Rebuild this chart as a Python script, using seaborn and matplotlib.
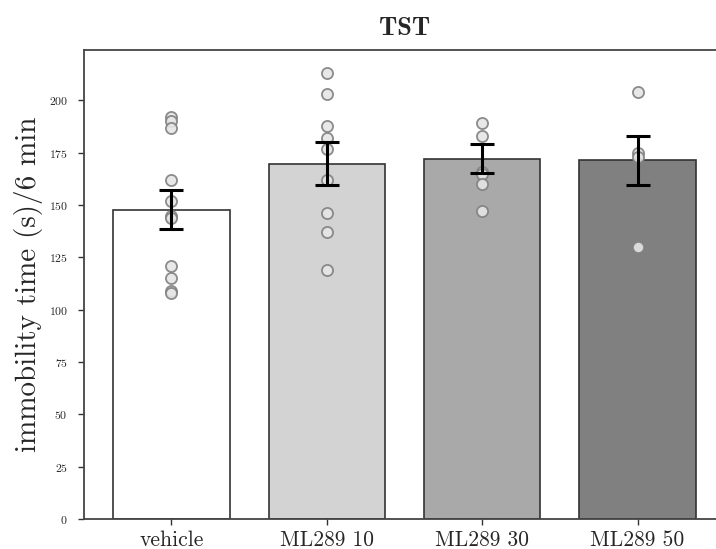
import numpy as np
import pandas as pd
import matplotlib
matplotlib.use("Agg")
import matplotlib.pyplot as plt
import seaborn as sns

# Groups, group means, SEM and individual animals
categories = ["vehicle", "ML289 10", "ML289 30", "ML289 50"]
mean_values = [147.8, 169.8, 172.2, 171.4]
sem_values = [9.3, 10.2, 7.0, 11.8]
vehicle_pts = [192, 190, 187, 162, 152, 145, 144, 121, 115, 109, 108]
ml289_10_pts = [213, 203, 188, 182, 177, 162, 146, 137, 119]
ml289_30_pts = [189, 183, 166, 165, 160, 147]
ml289_50_pts = [204, 175, 173, 130]
y_ticks = [0, 25, 50, 75, 100, 125, 150, 175, 200]

bar_colors = ["#ffffff", "#d3d3d3", "#a9a9a9", "#808080"]

sns.set_style("white")
plt.rcParams["font.family"] = ["cmr10", "DejaVu Serif"]
plt.rcParams["axes.formatter.use_mathtext"] = True
plt.rcParams["mathtext.fontset"] = "cm"

points = pd.DataFrame({
    "group": (["vehicle"] * len(vehicle_pts) + ["ML289 10"] * len(ml289_10_pts)
              + ["ML289 30"] * len(ml289_30_pts) + ["ML289 50"] * len(ml289_50_pts)),
    "time": vehicle_pts + ml289_10_pts + ml289_30_pts + ml289_50_pts,
})
summary = pd.DataFrame({"group": categories, "mean": mean_values, "sem": sem_values})

fig = plt.figure(figsize=(7.16, 5.49), dpi=100)
ax = fig.add_axes([0.118, 0.0546, 0.894, 0.854])

sns.barplot(data=summary, x="group", y="mean", hue="group", order=categories,
            hue_order=categories, palette=bar_colors, edgecolor="#333333",
            linewidth=1.2, width=0.75, errorbar=None, legend=False, ax=ax, zorder=2)

sns.stripplot(data=points, x="group", y="time", order=categories, jitter=False,
              color="#e6e6e6", edgecolor="#808080", linewidth=1.3, size=8,
              alpha=0.9, ax=ax, zorder=3)

pos = np.arange(len(categories))
ax.errorbar(pos, summary["mean"], yerr=summary["sem"], fmt="none", ecolor="black",
            elinewidth=2.2, capsize=8.5, capthick=2.2, zorder=4)

ax.set_xlim(-0.56, 3.56)
ax.set_ylim(0, 224)
ax.set_yticks(y_ticks)
ax.tick_params(axis="y", labelsize=8.5, length=4.5, width=1, color="#333333",
               left=True, pad=7.5)
ax.tick_params(axis="x", labelsize=15.5, length=4, width=1, color="#333333",
               bottom=True, pad=4)
for s in ax.spines.values():
    s.set_color("#444444")
    s.set_linewidth(1.3)

ax.set_xlabel("")
ax.set_ylabel("immobility time (s)/6 min", fontsize=21, labelpad=4)
ax.set_title("TST", fontsize=19, fontfamily=["cmb10", "DejaVu Serif"],
             fontweight="bold", pad=11)

fig.savefig("out.png", dpi=100)
